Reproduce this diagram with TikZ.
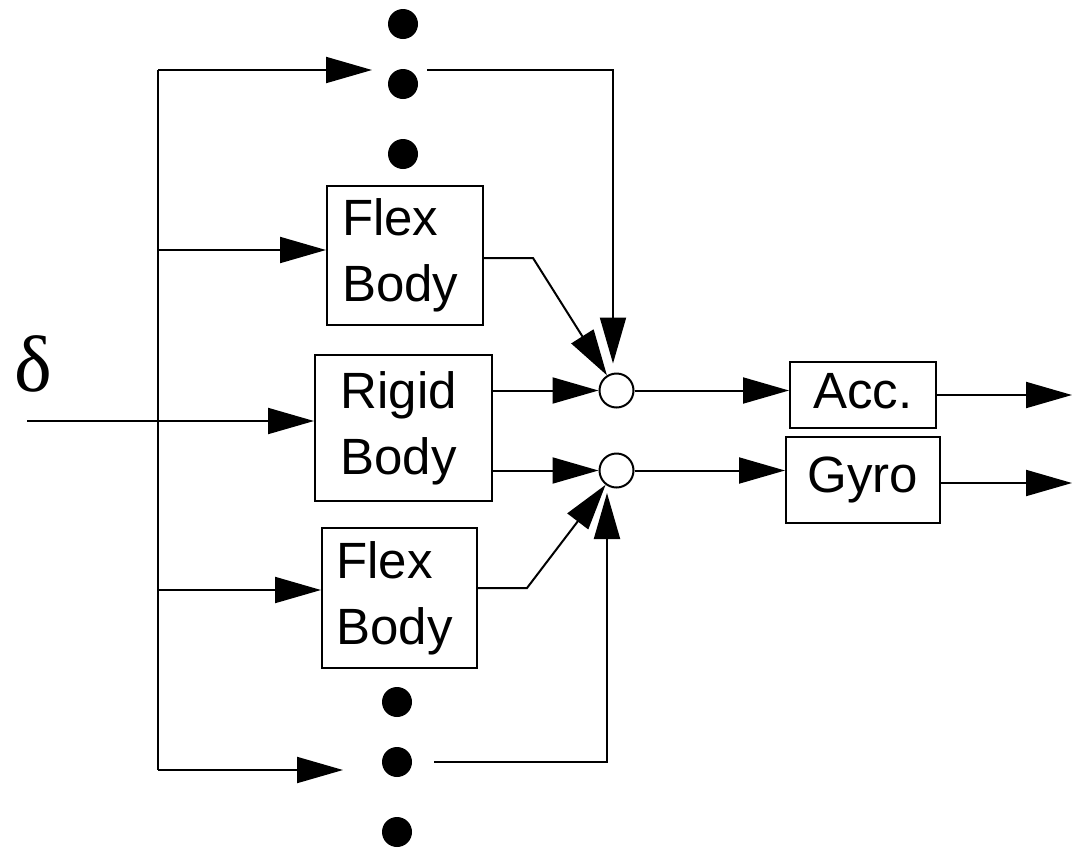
\documentclass[tikz,border=0pt]{standalone}
\usepackage{fontspec}
\setmainfont{Liberation Sans}
\newfontfamily\serifgreek{Liberation Serif}
\usetikzlibrary{arrows.meta,calc}
\begin{document}
\begin{tikzpicture}[x=1pt,y=-1pt, line width=2pt,
  arr/.style={-{Triangle[length=46pt,width=26pt]}},
  blk/.style={draw, inner sep=0pt, font=\fontsize{51}{66}\selectfont, align=left},
  sumj/.style={draw, circle, minimum size=34pt, inner sep=0pt},
  dotn/.style={fill, circle, minimum size=30pt, inner sep=0pt}]
\useasboundingbox (0,0) rectangle (1072,847);

% blocks
\node[blk, text width=126pt, minimum width=156pt, minimum height=139pt] (flex1) at (405,255.5) {Flex\\Body};
\node[blk, text width=126pt, minimum width=177pt, minimum height=146pt] (rigid) at (403.5,428) {Rigid\\Body};
\node[blk, text width=126pt, minimum width=155pt, minimum height=140pt] (flex2) at (399.5,598) {Flex\\Body};
\node[blk, text height=36pt, text depth=10pt, minimum width=146pt, minimum height=66pt] (acc) at (863,395) {Acc.};
\node[blk, minimum width=154pt, minimum height=86pt] (gyro) at (863,480) {Gyro};

% summing junctions
\node[sumj] (s1) at (616.5,390.5) {};
\node[sumj] (s2) at (616.5,470.5) {};

% dots
\node[dotn] (dt1) at (403,24) {};
\node[dotn] (dt2) at (403,84) {};
\node[dotn] (dt3) at (403,154) {};
\node[dotn] (db1) at (397,702) {};
\node[dotn] (db2) at (397,762) {};
\node[dotn] (db3) at (397,832) {};

% input label
\node[font=\serifgreek\fontsize{80}{88}\selectfont] (delta) at (33,364) {δ};

% coordinates
\coordinate (tTop) at (158,70);
\coordinate (tBot) at (158,770);
\coordinate (in) at (27,421);
\coordinate (topTip) at (372,70);
\coordinate (topStart) at (427,70);
\coordinate (botTip) at (343,770);
\coordinate (botStart) at (434,762);
\coordinate (k1) at (533,258);
\coordinate (k2) at (527,588);
\coordinate (accOut) at (1072,395);
\coordinate (gyroOut) at (1072,483);
\coordinate (f1in) at ([yshift=5.5pt]flex1.west);
\coordinate (f2in) at ([yshift=8pt]flex2.west);

% trunk and branches
\draw (tTop) -- (tBot);
\draw[arr] (tTop) -- (topTip);
\draw[arr] (tBot) -- (botTip);
\draw[arr] (tTop |- f1in) -- (f1in);
\draw[arr] (tTop |- f2in) -- (f2in);
\draw[arr] (in) -- (in -| rigid.west);

% outer paths into junctions
\draw[arr] (topStart) -| ([xshift=-3.5pt,yshift=9pt]s1.north);
\draw[arr] (botStart) -| ([xshift=-9.5pt,yshift=-4.5pt]s2.south);

% block outputs
\draw[arr] (flex1.east |- k1) -- (k1) -- (s1);
\draw[arr] (rigid.east |- s1) -- (s1);
\draw[arr] (rigid.east |- s2) -- (s2);
\draw[arr] (flex2.east |- k2) -- (k2) -- (s2);

% to sensors
\draw[arr] (s1.east) -- (s1.east -| acc.west);
\draw[arr] (s2.east) -- (s2.east -| gyro.west);
\draw[arr] (acc.east) -- (accOut);
\draw[arr] (gyro.east |- gyroOut) -- (gyroOut);
\end{tikzpicture}
\end{document}
